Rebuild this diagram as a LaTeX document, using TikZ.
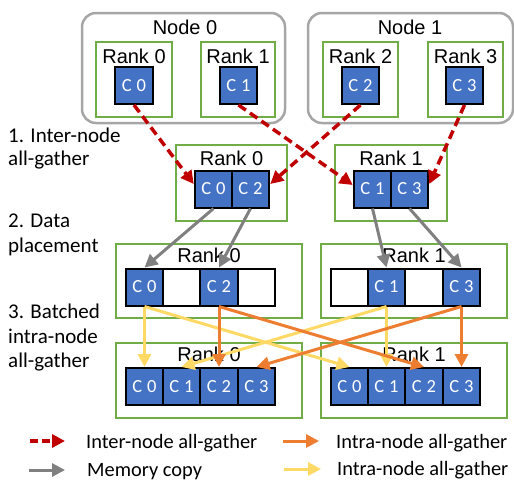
\documentclass[tikz,border=0pt]{standalone}
\usepackage{fontspec}
\setmainfont{Carlito}
\newfontfamily\arialf{Liberation Sans}
\usetikzlibrary{arrows.meta}
\definecolor{cblue}{HTML}{4472C4}
\definecolor{cgreen}{HTML}{70AD47}
\definecolor{cgray}{HTML}{A6A6A6}
\definecolor{cred}{HTML}{C00000}
\definecolor{corange}{HTML}{ED7D31}
\definecolor{cyellow}{HTML}{FFD966}
\definecolor{carrgray}{HTML}{808080}
\newcommand\cc[1]{C\hspace{5pt}#1}
\begin{document}
\begin{tikzpicture}[x=1pt,y=-1pt,
  cell/.style={draw=black, line width=2pt, fill=cblue, minimum width=37.5pt, minimum height=37pt, inner sep=0pt, text=white, font=\fontsize{18.5}{20}\selectfont},
  ecell/.style={cell, fill=white},
  rankbox/.style={draw=cgreen, line width=2pt, inner sep=0pt},
  nodebox/.style={draw=cgray, line width=2.5pt, rounded corners=14pt, inner sep=0pt},
  lbl/.style={font=\arialf\fontsize{20}{24}\selectfont, anchor=base, inner sep=0pt},
  side/.style={font=\fontsize{21}{25}\selectfont, anchor=base west, inner sep=0pt},
  tip/.style={-{Triangle[length=13pt,width=13pt]}},
  redarr/.style={tip, draw=cred, line width=3.5pt, dash pattern=on 9pt off 5pt},
  grayarr/.style={tip, draw=carrgray, line width=3pt},
  orarr/.style={tip, draw=corange, line width=3pt},
  yelarr/.style={tip, draw=cyellow, line width=3pt}]
\useasboundingbox (0,0) rectangle (514,480);

% top nodes
\node[nodebox, minimum width=203pt, minimum height=110pt] (n0) at (183.5,68) {};
\node[nodebox, minimum width=205pt, minimum height=110pt] (n1) at (410.5,68) {};
\node[lbl] (n0l) at (185,34) {Node 0};
\node[lbl] (n1l) at (410,34) {Node 1};

\node[rankbox, minimum width=76pt, minimum height=75pt] (rb0) at (134,79.5) {};
\node[rankbox, minimum width=74pt, minimum height=75pt] (rb1) at (238,79.5) {};
\node[rankbox, minimum width=75pt, minimum height=75pt] (rb2) at (360.5,79.5) {};
\node[rankbox, minimum width=75pt, minimum height=75pt] (rb3) at (465.5,79.5) {};
\node[lbl] (rl0) at (134,63) {Rank 0};
\node[lbl] (rl1) at (238,63) {Rank 1};
\node[lbl] (rl2) at (360.5,63) {Rank 2};
\node[lbl] (rl3) at (465.5,63) {Rank 3};
\node[cell] (t0) at (134,85.5) {\cc0};
\node[cell] (t1) at (238.5,85.5) {\cc1};
\node[cell] (t2) at (360.5,85.5) {\cc2};
\node[cell] (t3) at (464.5,85.5) {\cc3};

% step 1
\node[rankbox, minimum width=111pt, minimum height=76pt] (ab0) at (231.5,183) {};
\node[rankbox, minimum width=112pt, minimum height=76pt] (ab1) at (391,183) {};
\node[lbl] (al0) at (231.5,165) {Rank 0};
\node[lbl] (al1) at (391,165) {Rank 1};
\node[cell] (a0) at (213.5,189) {\cc0};
\node[cell] (a2) at (250.5,189) {\cc2};
\node[cell] (a1) at (372.5,189) {\cc1};
\node[cell] (a3) at (409.5,189) {\cc3};

% step 2
\node[rankbox, minimum width=186pt, minimum height=74pt] (bb0) at (209,281) {};
\node[rankbox, minimum width=186pt, minimum height=74pt] (bb1) at (414,281) {};
\node[lbl] (bl0) at (209,262) {Rank 0};
\node[lbl] (bl1) at (414,262) {Rank 1};
\node[cell] (b00) at (144.5,287) {\cc0};
\node[ecell] (b01) at (181.5,287) {};
\node[cell] (b02) at (219,287) {\cc2};
\node[ecell] (b03) at (256.5,287) {};
\node[ecell] (b10) at (349.5,287) {};
\node[cell] (b11) at (386.5,287) {\cc1};
\node[ecell] (b12) at (424,287) {};
\node[cell] (b13) at (461.5,287) {\cc3};

% step 3
\node[rankbox, minimum width=186pt, minimum height=75pt] (cb0) at (209,380.5) {};
\node[rankbox, minimum width=186pt, minimum height=75pt] (cb1) at (414,380.5) {};
\node[lbl] (cl0) at (209,361) {Rank 0};
\node[lbl] (cl1) at (414,361) {Rank 1};
\node[cell] (c00) at (144.5,386.5) {\cc0};
\node[cell] (c01) at (181.5,386.5) {\cc1};
\node[cell] (c02) at (219,386.5) {\cc2};
\node[cell] (c03) at (256.5,386.5) {\cc3};
\node[cell] (c10) at (349.5,386.5) {\cc0};
\node[cell] (c11) at (386.5,386.5) {\cc1};
\node[cell] (c12) at (424,386.5) {\cc2};
\node[cell] (c13) at (461.5,386.5) {\cc3};

% side labels
\node[side] (s1a) at (8,142) {1. Inter-node};
\node[side] (s1b) at (8,165) {all-gather};
\node[side] (s2a) at (8,227) {2. Data};
\node[side] (s2b) at (8,252) {placement};
\node[side] (s3a) at (8,318) {3. Batched};
\node[side] (s3b) at (8,343) {intra-node};
\node[side] (s3c) at (8,367) {all-gather};

% step 1 arrows
\draw[redarr] (t0.south) -- ([yshift=5pt]a0.west);
\draw[redarr] (t1.south) -- ([yshift=4pt]a1.west);
\draw[redarr] (t2.south) -- ([yshift=5pt]a2.east);
\draw[redarr] (t3.south) -- ([yshift=5pt]a3.east);

% step 2 arrows
\draw[grayarr] (a0.south) -- (b00.north);
\draw[grayarr] (a2.south) -- (b02.north);
\draw[grayarr] (a1.south) -- (b11.north);
\draw[grayarr] (a3.south) -- (b13.north);

% step 3 arrows
\draw[yelarr] (b00.south) -- (c00.north);
\draw[yelarr] (b00.south) -- (c10.north);
\draw[yelarr] (b11.south) -- (c11.north);
\draw[yelarr] (b11.south) -- (c01.north);
\draw[orarr] (b02.south) -- (c02.north);
\draw[orarr] (b02.south) -- (c12.north);
\draw[orarr] (b13.south) -- (c13.north);
\draw[orarr] (b13.south) -- (c03.north);

% legend
\coordinate (l1s) at (30,441); \coordinate (l1e) at (65,441);
\coordinate (l2s) at (283,441); \coordinate (l2e) at (319,441);
\coordinate (l3s) at (29,470); \coordinate (l3e) at (65,470);
\coordinate (l4s) at (284,469); \coordinate (l4e) at (321,469);
\draw[redarr, dash pattern=on 8pt off 4pt] (l1s) -- (l1e);
\draw[orarr] (l2s) -- (l2e);
\draw[grayarr] (l3s) -- (l3e);
\draw[yelarr] (l4s) -- (l4e);
\node[side, font=\fontsize{20.4}{24}\selectfont] (g1) at (86,448) {Inter-node all-gather};
\node[side, font=\fontsize{20.4}{24}\selectfont] (g2) at (336,448) {Intra-node all-gather};
\node[side, font=\fontsize{20.4}{24}\selectfont] (g3) at (87,476) {Memory copy};
\node[side, font=\fontsize{20.4}{24}\selectfont] (g4) at (337,475) {Intra-node all-gather};
\end{tikzpicture}
\end{document}
